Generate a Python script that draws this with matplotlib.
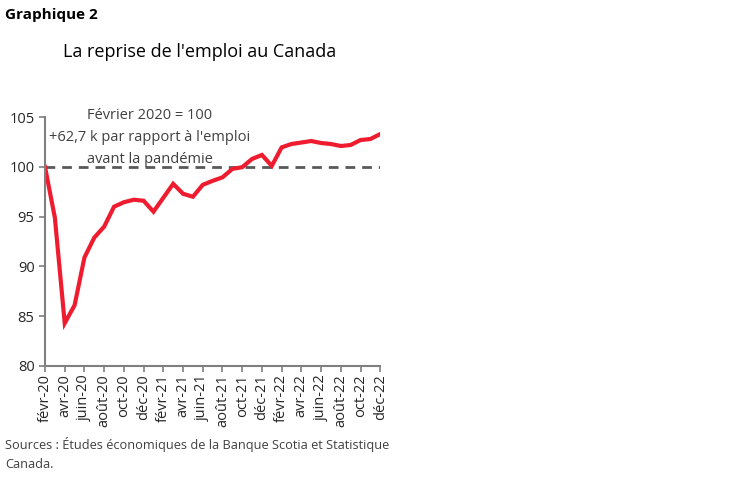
import matplotlib.pyplot as plt
import numpy as np

plt.rcParams['font.family'] = ['Open Sans', 'DejaVu Sans']

# employment index, fevrier 2020 = 100
months = ['févr-20', 'mars-20', 'avr-20', 'mai-20', 'juin-20', 'juil-20', 'août-20',
          'sept-20', 'oct-20', 'nov-20', 'déc-20', 'janv-21', 'févr-21', 'mars-21',
          'avr-21', 'mai-21', 'juin-21', 'juil-21', 'août-21', 'sept-21', 'oct-21',
          'nov-21', 'déc-21', 'janv-22', 'févr-22', 'mars-22', 'avr-22', 'mai-22',
          'juin-22', 'juil-22', 'août-22', 'sept-22', 'oct-22', 'nov-22', 'déc-22']
emploi = [100.0, 94.9, 84.3, 86.1, 90.9, 92.9, 94.0, 96.0, 96.45, 96.7, 96.6,
          95.5, 96.9, 98.3, 97.3, 97.0, 98.2, 98.6, 98.95, 99.8, 99.97, 100.8,
          101.2, 100.1, 101.96, 102.3, 102.45, 102.6, 102.4, 102.3, 102.1,
          102.2, 102.7, 102.8, 103.3]
y_ticks = [80, 85, 90, 95, 100, 105]

x = np.arange(len(months))
grey = '#7f7f7f'

fig = plt.figure(figsize=(7.5, 4.82), dpi=100)
ax = fig.add_axes([0.06, 0.2407, 0.447, 0.5163])

ax.axhline(100, color='#595959', linestyle=(0, (3.5, 2.5)), linewidth=2, zorder=1)
ax.plot(x, emploi, color='#ee1c2e', linewidth=3, solid_joinstyle='miter', zorder=2)

ax.set_xlim(0, len(months) - 1)
ax.set_ylim(80, 105)
ax.set_yticks(y_ticks)
ax.set_xticks(x[::2])
ax.set_xticklabels(months[::2], rotation=90)
ax.tick_params(axis='both', colors=grey, labelcolor='#262626', labelsize=10.5,
               length=4, width=1.2)
ax.tick_params(axis='x', pad=2)
for side in ['top', 'right']:
    ax.spines[side].set_visible(False)
for side in ['left', 'bottom']:
    ax.spines[side].set_color(grey)
    ax.spines[side].set_linewidth(1.5)

ax.text(0.312, 0.918, 'Février 2020 = 100\n+62,7 k par rapport à l\'emploi\navant la pandémie',
        transform=ax.transAxes, ha='center', va='center', fontsize=10.5,
        color='#404040', linespacing=1.6)

fig.text(0.007, 0.968, 'Graphique 2', fontsize=11, fontweight='bold', va='center')
fig.text(0.266, 0.892, "La reprise de l'emploi au Canada", fontsize=13,
         ha='center', va='center', fontweight='medium')
fig.text(0.007, 0.059, 'Sources : Études économiques de la Banque Scotia et Statistique\nCanada.',
         fontsize=9.2, color='#404040', va='center', linespacing=1.6)

fig.savefig('out.png', dpi=100)
